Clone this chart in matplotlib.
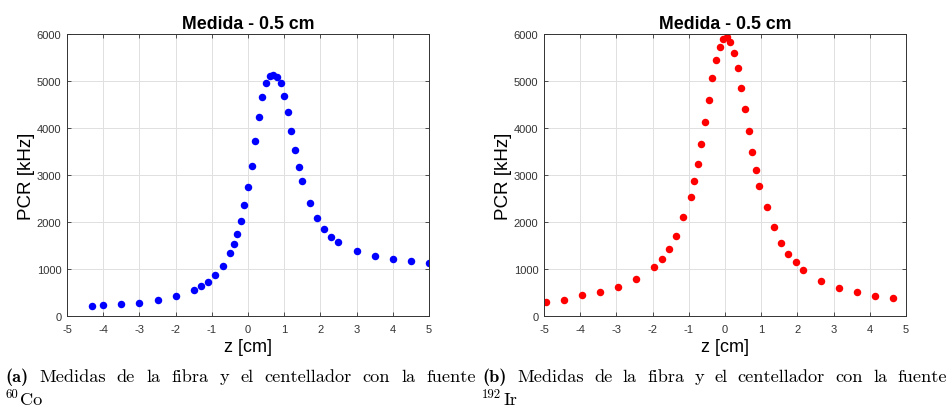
import matplotlib
matplotlib.use("Agg")
import matplotlib.pyplot as plt

# Co-60 measurements
z_co = [-4.3, -4.0, -3.5, -3.0, -2.5, -2.0, -1.5, -1.3, -1.1, -0.9, -0.7, -0.5, -0.4, -0.3,
        -0.2, -0.1, 0.0, 0.1, 0.2, 0.3, 0.4, 0.5, 0.6, 0.7, 0.8, 0.9, 1.0, 1.1, 1.2, 1.3,
        1.4, 1.5, 1.7, 1.9, 2.1, 2.3, 2.5, 3.0, 3.5, 4.0, 4.5, 5.0]
pcr_co = [213, 227, 248, 284, 333, 418, 553, 631, 730, 879, 1071, 1348, 1532, 1752,
          2014, 2355, 2738, 3199, 3716, 4227, 4660, 4950, 5106, 5135, 5092, 4950, 4688, 4333, 3929, 3539,
          3177, 2872, 2404, 2078, 1844, 1688, 1567, 1376, 1277, 1213, 1163, 1135]

# Ir-192 measurements
z_ir = [-4.95, -4.45, -3.95, -3.45, -2.95, -2.45, -1.95, -1.75, -1.55, -1.35, -1.15, -0.95, -0.85,
        -0.75, -0.65, -0.55, -0.45, -0.35, -0.25, -0.15, -0.05, 0.05, 0.15, 0.25, 0.35, 0.45,
        0.55, 0.65, 0.75, 0.85, 0.95, 1.15, 1.35, 1.55, 1.75, 1.95, 2.15, 2.65, 3.15, 3.65, 4.15, 4.65]
pcr_ir = [298, 333, 440, 518, 624, 787, 1035, 1206, 1418, 1702, 2106, 2539, 2865,
          3227, 3660, 4128, 4603, 5057, 5447, 5730, 5887, 5929, 5830, 5596, 5270, 4858,
          4411, 3929, 3489, 3106, 2766, 2319, 1887, 1553, 1312, 1142, 979, 745, 603, 504, 433, 383]

xticks = list(range(-5, 6))
yticks = list(range(0, 6001, 1000))
caption_text = 'Medidas de la fibra y el centellador con la fuente'

plt.rcParams['font.family'] = ['Liberation Sans', 'DejaVu Sans']
plt.rcParams['axes.unicode_minus'] = False

W, H = 952, 410
fig = plt.figure(figsize=(W / 100, H / 100), dpi=100)

def make_axes(left, x, y, color):
    ax = fig.add_axes([left / W, 1 - 317 / H, 362 / W, 282 / H])
    ax.plot(x, y, 'o', color=color, ms=5.4, mew=0)
    ax.set_xlim(-5, 5)
    ax.set_ylim(0, 6000)
    ax.set_xticks(xticks)
    ax.set_yticks(yticks)
    ax.grid(True, color='#e0e0e0', lw=0.7)
    ax.set_axisbelow(True)
    ax.tick_params(direction='in', top=True, right=True, labelsize=8, colors='#333333',
                   length=3, width=0.6)
    ax.tick_params(axis='x', pad=6)
    ax.tick_params(axis='y', pad=4)
    for s in ax.spines.values():
        s.set_color('#333333')
        s.set_linewidth(0.7)
    ax.set_title('Medida - 0.5 cm', fontsize=12.8, fontweight='bold', pad=4)
    ax.set_xlabel('z [cm]', fontsize=13, labelpad=3)
    ax.set_ylabel('PCR [kHz]', fontsize=13.5, labelpad=1)
    return ax

make_axes(67, z_co, pcr_co, (0, 0, 1))
make_axes(544, z_ir, pcr_ir, (1, 0, 0))

renderer = fig.canvas.get_renderer()
FS = 13.2

def caption(x0, x1, label, sup, elem):
    yb = 1 - 382 / H
    t = fig.text(x0 / W, yb, label, family='cmb10', fontsize=FS, va='baseline')
    lw = t.get_window_extent(renderer).width
    start = x0 + lw + 11
    # justified line, like LaTeX
    words = caption_text.split()
    texts = [fig.text(0, yb, w, family='cmr10', fontsize=FS, va='baseline') for w in words]
    widths = [tt.get_window_extent(renderer).width for tt in texts]
    gap = (x1 - start - sum(widths)) / (len(words) - 1)
    x = start
    for tt, w in zip(texts, widths):
        tt.set_x(x / W)
        x += w + gap
    s = fig.text(x0 / W, 1 - 398 / H, sup, family='cmr10', fontsize=FS * 0.7, va='baseline')
    sw = s.get_window_extent(renderer).width
    fig.text((x0 + sw + 2) / W, 1 - 405 / H, elem, family='cmr10', fontsize=FS, va='baseline')

caption(5, 476, '(a)', '60', 'Co')
caption(482, 947, '(b)', '192', 'Ir')

fig.savefig('out.png', dpi=100)
